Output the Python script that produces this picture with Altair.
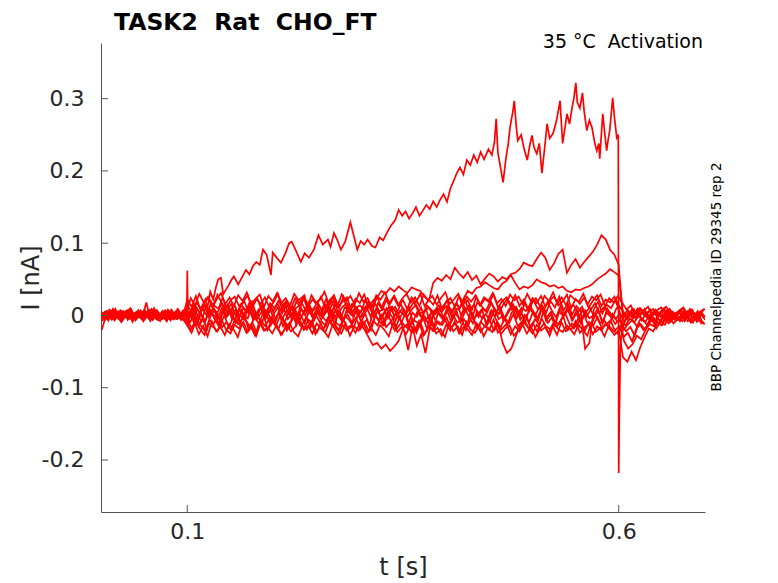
import altair as alt
import pandas as pd

# --- sweeps, current in pA, sampled every 5 ms ---
# each sweep: holding (0-0.095 s), test pulse (0.1-0.595 s), tail (0.6-0.7 s)
DT = 0.005
SEG_START = {"pre": 0.0, "pulse": 0.1, "post": 0.6}

sweep1 = {
    "pre": [2, -5, 6, -1, 4, -7, 3, 8, -3, 1, -6, 5, -2, 7, -4, 0, 6, -5, 3, -1],
    "pulse": [22, 12, 27, 9, 19, 24, 14, 29, 17, 8,
              21, 26, 13, 19, 28, 10, 23, 16, 25, 11,
              18, 30, 14, 20, 9, 24, 17, 27, 12, 22,
              15, 26, 10, 21, 28, 13, 19, 25, 8, 23,
              17, 29, 12, 20, 26, 11, 24, 16, 27, 14,
              21, 9, 25, 18, 30, 13, 22, 15, 28, 10,
              19, 24, 12, 27, 17, 21, 8, 26, 14, 23,
              18, 29, 11, 20, 25, 15, 28, 13, 22, 9,
              24, 17, 27, 12, 21, 26, 14, 19, 29, 10,
              23, 16, 25, 11, 20, 28, 13, 22, 18, 26],
    "post": [14, 6, -3, 8, 2, 10, -1, 5, 9, 0, 7, 12, 3, -2, 6, 11, 1, 8, -4, 4, 9],
}
sweep2 = {
    "pre": [-3, 4, -6, 2, 7, -2, -5, 1, 6, -4, 18, -7, 5, 0, -3, 8, -1, 4, -6, 2],
    "pulse": [4, 14, -3, 10, 0, 17, 6, -5, 12, 2,
              9, -2, 15, 5, 19, -4, 8, 13, 1, 11,
              -6, 7, 16, 3, 12, -1, 18, 6, 10, -3,
              14, 2, 9, 20, 4, -5, 11, 7, 15, 0,
              8, 13, -2, 17, 5, 10, -4, 12, 3, 16,
              1, 9, 19, 6, -3, 14, 8, 2, 11, -6,
              13, 5, 17, 0, 10, 7, 15, -2, 9, 4,
              18, 3, 12, -4, 8, 16, 1, 11, 6, 14,
              -1, 10, 5, 19, 7, -3, 13, 2, 9, 15,
              4, 12, -2, 8, 17, 3, 11, 6, -4, 10],
    "post": [10, -2, 4, 9, -1, 6, 3, -4, 8, 2, 10, -3, 5, 0, 7, -2, 9, 3, -1, 6, 1],
}
sweep3 = {
    "pre": [-20, 1, 5, -4, 0, 6, -6, 3, -2, 7, -5, 2, 4, -3, 6, -8, 1, -2, 5, -4],
    "pulse": [-5, 6, -12, 2, -8, 9, -3, -14, 4, -1,
              8, -10, 1, -6, 11, -4, 3, -13, 7, -2,
              -9, 5, -15, 0, 10, -7, 2, -11, 6, -4,
              12, -1, -8, 4, -12, 7, -5, 1, -10, 9,
              -3, 3, -14, 6, -6, 0, 10, -9, 2, -5,
              8, -12, 4, -2, 11, -7, 1, -15, 5, -4,
              7, -9, 3, -6, 12, -1, -11, 6, -3, 2,
              -8, 9, -5, 0, -13, 4, 10, -6, 1, -10,
              6, -3, 11, -8, 2, -14, 5, -1, 8, -7,
              3, -11, 7, -4, 0, 10, -9, 4, -2, -12],
    "post": [-5, -20, -12, -6, -15, -3, -9, 1, -7, -11, -2, 4, -6, 0, -8, 3, -4, -10, 2, -12, -3],
}
sweep4 = {
    "pre": [5, -2, 3, -7, 1, 4, -3, 6, -5, 0, 8, -4, 2, -6, 3, 5, -7, 1, -3, 6],
    "pulse": [-8, -18, -3, -14, -22, -6, -12, 1, -16, -9,
              -20, -5, -13, 2, -17, -10, -24, -7, -15, -2,
              -11, -19, -4, -21, -9, 3, -14, -18, -6, -12,
              -23, -8, -15, 0, -11, -20, -5, -17, -13, -3,
              -19, -10, -22, -7, -14, 1, -16, -9, -21, -4,
              -12, -18, -6, -24, -10, -2, -15, -20, -8, -13,
              -3, -17, -11, -22, -5, -14, 2, -19, -9, -16,
              -7, -21, -12, -38, -52, -46, -30, -13, -6, -18,
              -10, -23, -4, -15, -19, -8, -12, 0, -20, -11,
              -16, -5, -22, -9, -14, -2, -18, -12, -7, -21],
    "post": [-15, -30, -24, -36, -18, -12, -20, -7, -3, -11, -5, 1, -8, -2, 4, -6, -1, 3, -9, -4, -14],
}
sweep5 = {
    "pre": [-6, 3, -1, 5, -4, 2, 7, -5, 1, -3, 4, 0, -6, 3, -2, 6, -4, 2, 7, -5],
    "pulse": [-14, -24, -8, -19, -27, -11, -16, -22, -6, -20,
              -25, -13, -18, -9, -23, -15, -28, -10, -21, -17,
              -7, -19, -26, -12, -22, -16, -4, -20, -14, -25,
              -11, -18, -23, -8, -17, -27, -13, -21, -15, -24,
              -10, -19, -30, -41, -38, -46, -40, -49, -43, -35,
              -18, -12, -24, -20, -9, -26, -15, -22, -17, -28,
              -13, -21, -8, -25, -16, -19, -27, -11, -23, -14,
              -20, -6, -24, -18, -12, -26, -15, -22, -9, -17,
              -25, -13, -21, -16, -28, -10, -19, -23, -14, -20,
              -8, -24, -17, -12, -26, -15, -21, -11, -19, -27],
    "post": [-20, -58, -64, -50, -62, -44, -30, -18, -22, -10, -14, -4, -9, -1, -6, 2, -8, -3, 1, -7, -12],
}
sweep6 = {
    "pre": [1, 6, -4, 3, -2, 5, 0, -6, 4, -1, 2, 7, -3, 1, -5, 3, 4, -2, 0, 5],
    "pulse": [12, 3, 18, 7, 22, -1, 14, 9, 25, 5,
              16, 0, 11, 20, 4, 13, 24, 8, 2, 17,
              10, 21, 6, 15, -2, 19, 12, 27, 3, 9,
              18, 7, 23, 1, 14, 10, 26, 5, 16, 11,
              4, 20, 13, 0, 17, 8, 22, 6, 12, -3,
              -20, -48, -15, -42, -26, -52, -18, 5, 14, 9,
              21, 3, 16, 11, 25, 7, 0, 18, 13, 6,
              19, 10, 2, 15, 23, 8, 12, -1, 17, 5,
              22, 9, 14, 4, 20, 11, 26, 7, 16, 1,
              13, 6, -46, -38, 8, 19, 3, 15, 10, 21],
    "post": [5, -35, -46, -40, -28, -33, -20, -12, -15, -5, -9, 0, -4, 3, -7, 1, -2, 5, -6, 2, -3],
}
sweep7 = {
    "pre": [4, -1, 2, 6, -5, 3, -2, 0, 5, -6, 1, -3, 6, -4, 2, 4, -1, -5, 3, 0],
    "pulse": [-10, 2, -15, -4, -19, 5, -8, -13, 0, -17,
              -3, -11, 7, -7, -16, -1, -12, 4, -20, -6,
              -14, 1, -9, -18, 6, -5, -13, -2, -16, 3,
              -8, -19, -4, 8, -11, -15, -1, -7, -17, 2,
              -12, -6, -20, 0, -9, -14, 5, -3, -18, -10,
              3, -15, -7, -11, -2, -19, 6, -8, -13, -4,
              -16, 1, -10, -5, -20, 4, -9, -14, -1, -12,
              7, -6, -17, -3, -11, 2, -15, -8, 0, -19,
              -5, -13, 6, -10, -2, -16, -7, 3, -12, -18,
              -4, 8, -9, -14, 1, -11, -6, -17, 2, -8],
    "post": [-8, -14, -4, -10, 0, -7, -13, -2, -9, 3, -5, -11, 1, -6, -3, 4, -8, 0, -4, -10, -15],
}
sweep8 = {
    "pre": [4, -6, 1, 7, -3, 5, -2, 3, -7, 2, 6, -4, 0, 5, -1, -6, 4, 2, -3, 7],
    "pulse": [6, -4, 12, 2, 15, -2, 9, 4, 17, 0,
              8, 14, -3, 11, 5, 19, 1, 10, -5, 13,
              7, 16, 3, 20, -1, 9, 14, 4, 18, 6,
              11, 0, 15, 8, 21, 3, 12, 17, 5, 10,
              14, 7, 19, 12, 25, 34, 30, 38, 33, 40,
              35, 31, 39, 36, 34, 26, 20, 45, 52, 48,
              56, 50, 66, 58, 52, 60, 49, 55, 43, 51,
              58, 54, 47, 53, 50, 57, 59, 64, 73, 70,
              68, 78, 87, 80, 63, 72, 85, 91, 59, 70,
              78, 66, 74, 81, 88, 98, 111, 105, 91, 84],
    "post": [70, -5, 8, -2, 6, 0, 9, -4, 5, 2, -3, 7, 1, -6, 4, -1, 6, -3, 2, 5, -2],
}
sweep9 = {
    "pre": [-4, 3, 8, -2, 5, -5, 1, 6, -3, 4, -1, 7, -6, 2, 0, -4, 5, 3, -2, 1],
    "pulse": [-2, 8, -7, 4, -10, 6, 1, -5, 10, -3,
              5, -8, 9, 0, -4, 12, -6, 3, 7, -9,
              2, 11, -5, 6, -1, 9, -7, 4, 13, -2,
              7, -6, 3, 10, -4, 5, -9, 8, 1, 11,
              -3, 6, 14, 2, 9, -5, 7, 12, 0, 4,
              10, -2, 8, 15, 3, 6, 11, -1, 9, 5,
              13, 4, 10, 8, 22, 34, 30, 38, 40, 46,
              42, 38, 36, 44, 48, 56, 45, 36, 40, 38,
              42, 50, 46, 44, 40, 42, 38, 40, 34, 32,
              36, 35, 38, 40, 44, 50, 54, 58, 64, 60],
    "post": [55, 2, -6, 5, -3, 8, 0, -5, 4, -2, 6, -7, 3, 1, -4, 5, -1, 7, -3, 2, -6],
}
sweep11 = {
    "pre": [6, -3, 9, 0, -7, 4, 10, -2, 5, -8, 3, 8, -5, 1, 7, -4, 2, 9, -6, 3],
    "pulse": [24, 14, 30, 18, 26, 11, 22, 31, 16, 25,
              13, 28, 20, 32, 15, 23, 29, 12, 27, 19,
              31, 17, 24, 14, 30, 21, 26, 11, 28, 18,
              22, 33, 16, 25, 13, 29, 20, 27, 15, 31,
              19, 24, 12, 28, 22, 32, 17, 26, 14, 23,
              30, 18, 25, 13, 29, 21, 27, 15, 24, 32,
              16, 22, 30, 12, 26, 19, 28, 14, 25, 20,
              31, 17, 23, 13, 29, 21, 26, 15, 30, 18,
              24, 12, 27, 20, 32, 16, 25, 14, 28, 22,
              19, 30, 15, 26, 21, 29, 13, 24, 18, 27],
    "post": [18, 8, 14, 2, 10, 6, 12, -1, 7, 11, 3, 9, 0, 6, 10, 2, 8, -3, 5, 9, 1],
}
sweep12 = {
    "pre": [-8, 5, -2, 9, -5, 1, 7, -9, 3, -1, 6, -6, 10, -3, 4, -7, 8, 0, -4, 6],
    "pulse": [-6, 10, 2, -9, 13, -1, 7, -12, 5, 15,
              -4, 9, -10, 3, 12, -7, 1, 14, -3, 8,
              -11, 6, 11, -5, 4, -13, 9, 0, 14, -8,
              5, -2, 12, -10, 7, 2, -6, 13, -1, 10,
              -9, 4, 15, -4, 8, -12, 3, 11, -7, 6,
              0, 13, -9, 5, -3, 10, -11, 7, 2, -6,
              12, -2, 8, -10, 4, 14, -5, 1, 9, -13,
              6, -1, 11, -8, 3, 13, -4, 7, -10, 10,
              2, -7, 12, -3, 5, -11, 9, 0, 14, -6,
              8, -9, 4, 11, -2, 6, -12, 10, 1, -5],
    "post": [3, -9, 6, -4, 9, -7, 2, 8, -10, 4, -2, 7, -6, 1, 5, -8, 3, -3, 6, -9, 0],
}
sweep13 = {
    "pre": [3, -7, 8, -1, -9, 5, 0, -4, 7, -6, 2, 9, -3, -8, 4, 1, -5, 6, -2, -7],
    "pulse": [-20, -10, -26, -14, -29, -8, -22, -16, -27, -12,
              -19, -30, -11, -24, -15, -28, -9, -21, -17, -25,
              -13, -27, -18, -10, -23, -29, -14, -20, -8, -26,
              -16, -22, -30, -12, -19, -25, -11, -28, -15, -21,
              -9, -24, -18, -27, -13, -20, -29, -10, -23, -16,
              -26, -14, -21, -8, -28, -18, -12, -25, -19, -30,
              -11, -22, -15, -27, -9, -20, -24, -13, -29, -17,
              -23, -10, -26, -18, -14, -28, -21, -12, -25, -16,
              -30, -19, -11, -24, -15, -27, -9, -22, -18, -26,
              -13, -20, -28, -10, -23, -17, -29, -14, -21, -25],
    "post": [-12, -22, -16, -28, -10, -20, -14, -6, -18, -9, -13, -3, -11, -5, -8, 0, -10, -4, -7, -12, -2],
}

# small sampling offsets (s) so the sweeps do not share their vertices
PHASE = {1: 0.0, 2: 0.0025, 3: 0.001, 4: 0.0005, 5: 0.0, 6: 0.001, 7: 0.003,
         8: 0.0, 9: 0.0, 11: 0.004, 12: 0.0015, 13: 0.0035}

# the large sweep, read point by point (time s, current pA)
sweep10 = [
    (0.000, -3), (0.008, 5), (0.016, -4), (0.024, 6), (0.032, -2), (0.040, 4),
    (0.048, -6), (0.056, 3), (0.064, 7), (0.072, -3), (0.080, 2), (0.088, -5),
    (0.096, 4), (0.0995, 3), (0.1, 62), (0.1008, -14), (0.103, 6), (0.107, -8),
    (0.111, 10), (0.115, 2), (0.119, 16), (0.123, 8), (0.1266, 33), (0.130, 22),
    (0.133, 38), (0.1358, 50), (0.139, 52), (0.1416, 29), (0.145, 36), (0.1485, 43),
    (0.151, 49), (0.154, 54), (0.159, 43), (0.163, 52), (0.168, 63), (0.172, 57),
    (0.176, 68), (0.180, 74), (0.184, 70), (0.1878, 91), (0.192, 84), (0.197, 56),
    (0.199, 87), (0.2035, 80), (0.2085, 73), (0.214, 87), (0.218, 100), (0.221, 102),
    (0.225, 92), (0.2316, 74), (0.236, 86), (0.241, 80), (0.2467, 91), (0.252, 111),
    (0.257, 98), (0.263, 105), (0.266, 95), (0.270, 114), (0.274, 104), (0.278, 91),
    (0.283, 102), (0.289, 129), (0.293, 110), (0.297, 91), (0.301, 103), (0.305, 98),
    (0.309, 105), (0.314, 96), (0.318, 94), (0.323, 108), (0.327, 104), (0.332, 116),
    (0.336, 124), (0.341, 132), (0.345, 146), (0.349, 138), (0.353, 144), (0.357, 134),
    (0.361, 141), (0.365, 150), (0.369, 138), (0.373, 145), (0.377, 153), (0.381, 147),
    (0.385, 158), (0.389, 150), (0.393, 160), (0.397, 168), (0.401, 157), (0.405, 176),
    (0.408, 184), (0.412, 196), (0.416, 205), (0.420, 195), (0.424, 215), (0.428, 208),
    (0.432, 222), (0.436, 212), (0.440, 226), (0.444, 216), (0.449, 230), (0.453, 222),
    (0.456, 240), (0.458, 272), (0.460, 225), (0.463, 205), (0.466, 184), (0.469, 215),
    (0.472, 238), (0.474, 260), (0.477, 280), (0.479, 297), (0.481, 265), (0.483, 242),
    (0.487, 250), (0.490, 232), (0.494, 215), (0.497, 236), (0.4995, 249), (0.502, 232),
    (0.505, 224), (0.508, 238), (0.511, 197), (0.514, 230), (0.517, 265), (0.520, 245),
    (0.524, 252), (0.528, 270), (0.532, 297), (0.535, 238), (0.538, 262), (0.540, 279),
    (0.543, 265), (0.546, 288), (0.548, 300), (0.5503, 322), (0.552, 295), (0.555, 287),
    (0.558, 308), (0.560, 282), (0.563, 256), (0.566, 270), (0.569, 260), (0.572, 240),
    (0.5746, 228), (0.577, 238), (0.578, 217), (0.5815, 279), (0.584, 250), (0.586, 228),
    (0.588, 245), (0.5896, 256), (0.593, 301), (0.595, 275), (0.5977, 246), (0.5995, 250),
    (0.6, -218), (0.6006, -150), (0.602, -42), (0.604, -18), (0.608, -6), (0.614, 3),
    (0.620, -5), (0.628, 4), (0.636, -3), (0.644, 5), (0.652, -2), (0.660, 6),
    (0.668, -4), (0.676, 3), (0.684, -5), (0.692, 4), (0.700, -2),
]

Y_TICKS = [-0.2, -0.1, 0, 0.1, 0.2, 0.3]
X_TICKS = [0.1, 0.6]

rows = []
grid_sweeps = {1: sweep1, 2: sweep2, 3: sweep3, 4: sweep4, 5: sweep5, 6: sweep6,
               7: sweep7, 8: sweep8, 9: sweep9, 11: sweep11, 12: sweep12, 13: sweep13}
for n, sw in grid_sweeps.items():
    for seg, start in SEG_START.items():
        for i, v in enumerate(sw[seg]):
            t = round(start + PHASE[n] + i * DT, 4)
            if t <= 0.7:
                rows.append({"sweep": n, "t": t, "I": v / 1000})
for t, v in sweep10:
    rows.append({"sweep": 10, "t": t, "I": v / 1000})
df = pd.DataFrame(rows)

W, H = 604, 469
FONT = "DejaVu Sans"
INK = "#262626"
AXIS = "#555555"

x_enc = alt.X("t:Q", scale=alt.Scale(domain=[0, 0.7], nice=False, zero=False),
              axis=alt.Axis(values=X_TICKS, ticks=False, grid=False, format=".1f",
                            labelFontSize=22, labelPadding=9, labelColor=INK, labelFont=FONT,
                            domainColor=AXIS, title="t [s]", titleFont=FONT,
                            titleFontSize=24, titleFontWeight="normal", titleColor=INK,
                            titleX=W / 2, titleY=55, titleBaseline="middle"))
y_enc = alt.Y("I:Q", scale=alt.Scale(domain=[-0.272, 0.377], nice=False, zero=False),
              axis=alt.Axis(values=Y_TICKS, ticks=False, grid=False,
                            labelExpr="datum.value == 0 ? '0' : (datum.value < 0 ? '-' + format(-datum.value, '.1f') : format(datum.value, '.1f'))",
                            labelFontSize=22, labelPadding=17, labelColor=INK, labelFont=FONT,
                            domainColor=AXIS, title="I [nA]", titleFont=FONT,
                            titleFontSize=24, titleFontWeight="normal", titleColor=INK,
                            titleX=-70, titleY=H / 2, titleAngle=270, titleBaseline="middle"))

traces = alt.Chart(df).mark_line(color="#ff0000", strokeWidth=1.7, clip=True).encode(
    x=x_enc, y=y_enc, detail="sweep:N", order="t:Q"
)

# inward tick marks (MATLAB style)
yticks = alt.Chart(pd.DataFrame({"I": Y_TICKS})).mark_rule(color=AXIS).encode(
    y=y_enc, x=alt.value(0), x2=alt.value(7)
)
xticks = alt.Chart(pd.DataFrame({"t": X_TICKS})).mark_rule(color=AXIS).encode(
    x=x_enc, y=alt.value(H), y2=alt.value(H - 7)
)

title = alt.Chart(pd.DataFrame({"s": ["TASK2\u00a0\u00a0Rat\u00a0\u00a0CHO_FT"]})).mark_text(
    font=FONT, fontSize=23.5, fontWeight="bold", color="#000000", align="left", baseline="alphabetic"
).encode(text="s:N", x=alt.value(13), y=alt.value(-13))

cond = alt.Chart(pd.DataFrame({"s": ["35 \u00b0C\u00a0\u00a0Activation"]})).mark_text(
    font=FONT, fontSize=19, color="#000000", align="right", baseline="alphabetic"
).encode(text="s:N", x=alt.value(602), y=alt.value(5))

source = alt.Chart(pd.DataFrame({"s": ["BBP Channelpedia ID 29345 rep 2"]})).mark_text(
    font=FONT, fontSize=13.5, color="#000000", angle=270, align="center", baseline="middle"
).encode(text="s:N", x=alt.value(616), y=alt.value(234))

chart = alt.layer(traces, yticks, xticks, title, cond, source).properties(
    width=W, height=H,
    autosize=alt.AutoSizeParams(type="none"),
    padding={"left": 93, "top": 35, "right": 30, "bottom": 70},
).configure_view(strokeWidth=0)

chart.save("out.html", embed_options={"renderer": "svg", "actions": False})
